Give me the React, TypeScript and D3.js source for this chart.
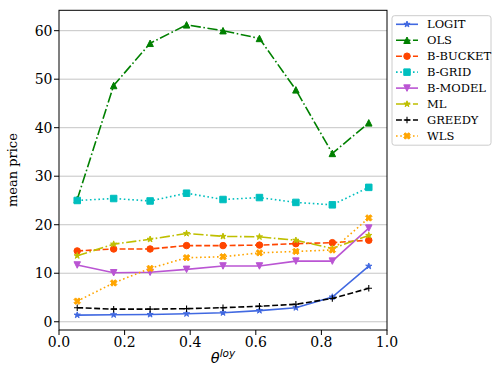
import React from "react";
import * as d3 from "d3";

const thetas = [1, 3, 5, 7, 9, 11, 13, 15, 17].map((k) => k / 18);
const seriesNames = ["LOGIT", "OLS", "B-BUCKET", "B-GRID", "B-MODEL", "ML", "GREEDY", "WLS"];
const logit = [1.37, 1.44, 1.5, 1.65, 1.85, 2.3, 2.9, 5.1, 11.45];
const ols = [25.2, 48.7, 57.4, 61.2, 60.0, 58.4, 47.8, 34.7, 41.0];
const bBucket = [14.6, 15.0, 15.0, 15.7, 15.7, 15.8, 16.1, 16.3, 16.8];
const bGrid = [25.0, 25.4, 24.9, 26.5, 25.2, 25.6, 24.6, 24.1, 27.7];
const bModel = [11.7, 10.1, 10.2, 10.8, 11.5, 11.5, 12.5, 12.5, 19.3];
const ml = [13.6, 16.0, 17.0, 18.2, 17.6, 17.5, 16.8, 15.1, 17.8];
const greedy = [2.9, 2.6, 2.6, 2.7, 2.9, 3.2, 3.6, 4.8, 6.9];
const wls = [4.25, 8.0, 11.0, 13.2, 13.4, 14.2, 14.5, 14.8, 21.4];
const xTicks = [0, 0.2, 0.4, 0.6, 0.8, 1.0];
const yTicks = [0, 10, 20, 30, 40, 50, 60];

const LW = 1.6;
const styles = [
  { color: "#4169E1", dash: "none", marker: "star" },
  { color: "#008000", dash: `${6.4 * LW},${1.6 * LW},${1 * LW},${1.6 * LW}`, marker: "tri_up" },
  { color: "#FF4500", dash: `${3.7 * LW},${1.6 * LW}`, marker: "circle" },
  { color: "#00BFBF", dash: `${1 * LW},${1.65 * LW}`, marker: "square" },
  { color: "#BA55D3", dash: "none", marker: "tri_down" },
  { color: "#BFBF00", dash: `${6.4 * LW},${1.6 * LW},${1 * LW},${1.6 * LW}`, marker: "star" },
  { color: "#000000", dash: `${3.7 * LW},${1.6 * LW}`, marker: "plus" },
  { color: "#FFA500", dash: `${1 * LW},${1.65 * LW}`, marker: "xfilled" },
];
const allSeries = [logit, ols, bBucket, bGrid, bModel, ml, greedy, wls];

const MS = 6.5;

function markerPath(kind: string, cx: number, cy: number): string {
  const h = MS / 2;
  const p = d3.path();
  if (kind === "circle") {
    p.arc(cx, cy, h, 0, Math.PI * 2);
    p.closePath();
  } else if (kind === "square") {
    p.rect(cx - h, cy - h, MS, MS);
  } else if (kind === "tri_up") {
    p.moveTo(cx, cy - h);
    p.lineTo(cx - h, cy + h);
    p.lineTo(cx + h, cy + h);
    p.closePath();
  } else if (kind === "tri_down") {
    p.moveTo(cx, cy + h);
    p.lineTo(cx - h, cy - h);
    p.lineTo(cx + h, cy - h);
    p.closePath();
  } else if (kind === "star") {
    const inner = 0.381966 * h;
    for (let i = 0; i < 10; i++) {
      const r = i % 2 === 0 ? h : inner;
      const a = (Math.PI * i) / 5 - Math.PI / 2;
      const x = cx + r * Math.cos(a);
      const y = cy + r * Math.sin(a);
      if (i === 0) p.moveTo(x, y);
      else p.lineTo(x, y);
    }
    p.closePath();
  } else if (kind === "plus") {
    p.moveTo(cx - h, cy);
    p.lineTo(cx + h, cy);
    p.moveTo(cx, cy - h);
    p.lineTo(cx, cy + h);
  } else if (kind === "xfilled") {
    const pts = [
      [-1, -2], [0, -1], [1, -2], [2, -1], [1, 0], [2, 1],
      [1, 2], [0, 1], [-1, 2], [-2, 1], [-1, 0], [-2, -1],
    ];
    pts.forEach(([a, b], i) => {
      const x = cx + (a / 4) * MS;
      const y = cy + (b / 4) * MS;
      if (i === 0) p.moveTo(x, y);
      else p.lineTo(x, y);
    });
    p.closePath();
  }
  return p.toString();
}

function Marker({ kind, cx, cy, color }: { kind: string; cx: number; cy: number; color: string }) {
  if (kind === "plus") {
    return <path d={markerPath(kind, cx, cy)} fill="none" stroke={color} strokeWidth={1.1} />;
  }
  return <path d={markerPath(kind, cx, cy)} fill={color} stroke={color} strokeWidth={1} strokeLinejoin="miter" />;
}

export default function App() {
  const W = 498;
  const H = 375;
  const left = 59, right = 387, top = 10.3, bottom = 330;
  const x = d3.scaleLinear().domain([0, 1]).range([left, right]);
  const y = d3.scaleLinear().domain([-1.7, 64.2]).range([bottom, top]);
  const line = d3
    .line<number>()
    .x((_, i) => x(thetas[i]))
    .y((d) => y(d));

  const serif = "'DejaVu Serif', serif";
  const legX = 392, legY = 15.7, legW = 99, legH = 129.5;

  return (
    <svg width={W} height={H} style={{ position: "absolute", left: 0, top: 0, background: "#fff" }}>
      <rect x={0} y={0} width={W} height={H} fill="#fff" />
      {yTicks.map((t) => (
        <line key={"g" + t} x1={left} x2={right} y1={y(t)} y2={y(t)} stroke="#b0b0b0" strokeWidth={0.8} opacity={0.9} />
      ))}
      <defs>
        <clipPath id="plotclip">
          <rect x={left} y={top} width={right - left} height={bottom - top} />
        </clipPath>
      </defs>
      <g clipPath="url(#plotclip)">
        {allSeries.map((vals, si) => (
          <g key={seriesNames[si]}>
            <path
              d={line(vals) || ""}
              fill="none"
              stroke={styles[si].color}
              strokeWidth={LW}
              strokeDasharray={styles[si].dash}
            />
            {vals.map((v, i) => (
              <Marker key={i} kind={styles[si].marker} cx={x(thetas[i])} cy={y(v)} color={styles[si].color} />
            ))}
          </g>
        ))}
      </g>
      <rect x={left} y={top} width={right - left} height={bottom - top} fill="none" stroke="#000" strokeWidth={1} />
      {xTicks.map((t) => (
        <g key={"x" + t}>
          <line x1={x(t)} x2={x(t)} y1={bottom} y2={bottom + 5} stroke="#000" strokeWidth={1} />
          <text x={x(t)} y={347} textAnchor="middle" fontFamily={serif} fontSize={14} fill="#000">
            {t.toFixed(1)}
          </text>
        </g>
      ))}
      {yTicks.map((t) => (
        <g key={"y" + t}>
          <line x1={left - 5} x2={left} y1={y(t)} y2={y(t)} stroke="#000" strokeWidth={1} />
          <text x={52.5} y={y(t) + 5.2} textAnchor="end" fontFamily={serif} fontSize={14} fill="#000">
            {t}
          </text>
        </g>
      ))}
      <text
        transform={`translate(17,${(top + bottom) / 2}) rotate(-90)`}
        textAnchor="middle"
        fontFamily={serif}
        fontSize={13}
        fill="#000"
      >
        mean price
      </text>
      <text x={(left + right) / 2} y={362.5} textAnchor="middle" fontFamily="'DejaVu Sans', sans-serif" fill="#000">
        <tspan fontStyle="italic" fontSize={14.5}>θ</tspan>
        <tspan fontStyle="italic" fontSize={10.5} dy={-6}>loy</tspan>
      </text>
      <rect x={legX} y={legY} width={legW} height={legH} rx={2.5} fill="#fff" fillOpacity={0.8} stroke="#cccccc" strokeWidth={1} />
      {seriesNames.map((name, i) => {
        const cy = 24.3 + i * 15.95;
        const st = styles[i];
        return (
          <g key={"l" + name}>
            <line x1={396} x2={418} y1={cy} y2={cy} stroke={st.color} strokeWidth={LW} strokeDasharray={st.dash} />
            <Marker kind={st.marker} cx={407} cy={cy} color={st.color} />
            <text x={427} y={cy + 4} fontFamily={serif} fontSize={11.5} fill="#000">
              {name}
            </text>
          </g>
        );
      })}
    </svg>
  );
}
